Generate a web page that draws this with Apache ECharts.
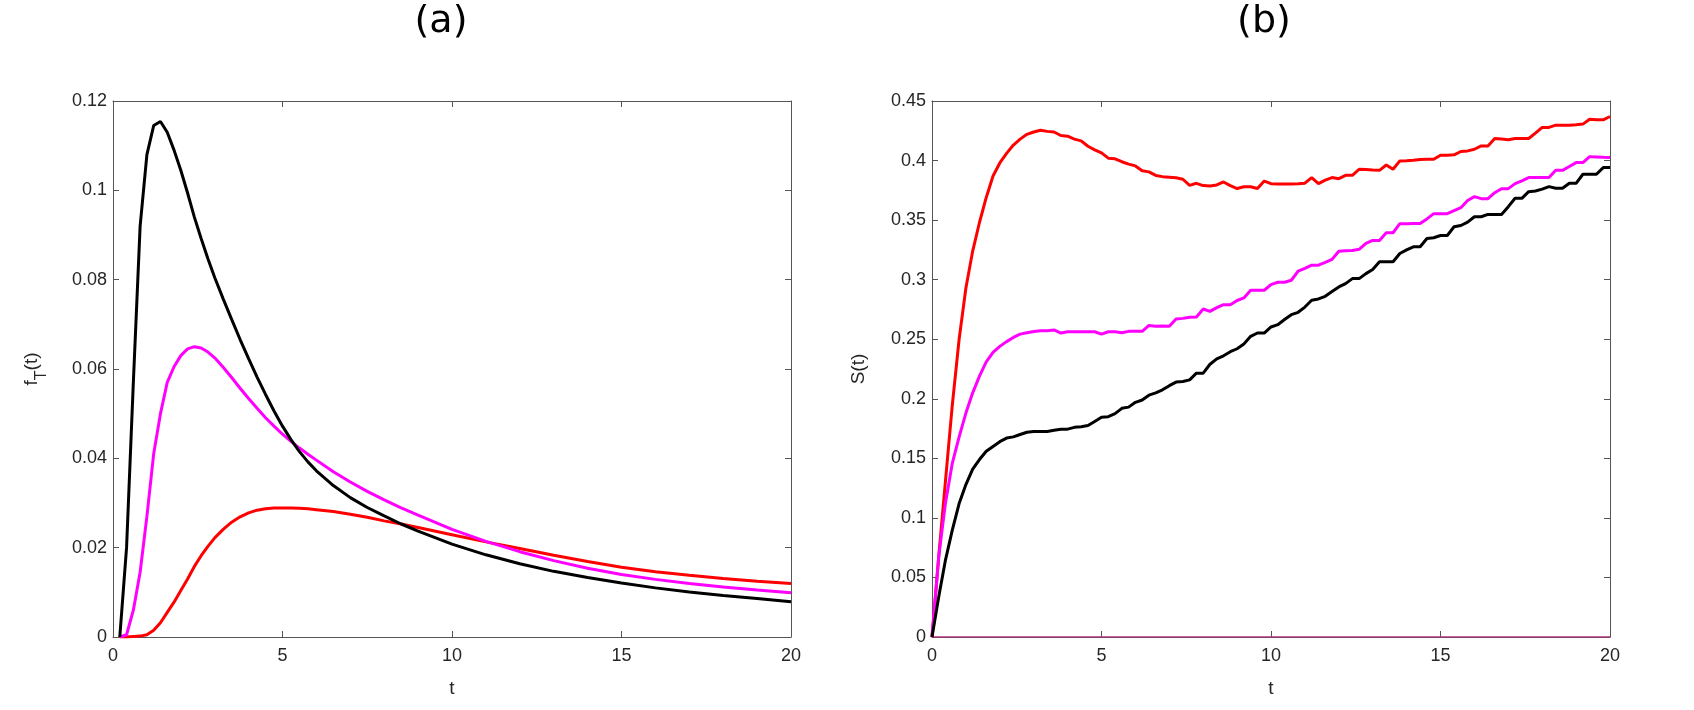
<!DOCTYPE html>
<html>
<head>
<meta charset="utf-8">
<script src="https://cdn.jsdelivr.net/npm/echarts@6/dist/echarts.min.js"></script>
<style>
  html, body { margin: 0; padding: 0; background: #fff; }
  #plot { width: 1694px; height: 710px; }
</style>
</head>
<body>
<div id="plot"></div>
<script>
// panel (a): first passage density f_T(t)
const tF = [0.2, 0.4, 0.6, 0.8, 1.0, 1.2, 1.4, 1.6, 1.8, 2.0, 2.2, 2.4, 2.6, 2.8, 3.0,
  3.25, 3.5, 3.75, 4.0, 4.25, 4.5, 4.75, 5.0, 5.25, 5.5, 5.75, 6.0,
  6.5, 7.0, 7.5, 8.0, 8.5, 9, 10, 11, 12, 13, 14, 15, 16, 17, 18, 19, 20];
const fBlack = [0, 0.020, 0.057, 0.092, 0.108, 0.1145, 0.1154, 0.113, 0.109, 0.1045, 0.0994, 0.094, 0.0892, 0.0847, 0.0805,
  0.0757, 0.0711, 0.0666, 0.0623, 0.0582, 0.0543, 0.0506, 0.0472, 0.0442, 0.0415, 0.0392, 0.0372,
  0.0339, 0.0312, 0.029, 0.0271, 0.0253, 0.0237, 0.0208, 0.0184, 0.0164, 0.0147, 0.0133, 0.0121, 0.011, 0.0101, 0.0093, 0.0086, 0.0079];
const fMagenta = [0, 0.0005, 0.006, 0.0145, 0.027, 0.041, 0.050, 0.057, 0.0605, 0.063, 0.0645, 0.065, 0.0647, 0.0638, 0.0625,
  0.0604, 0.0581, 0.0557, 0.0534, 0.0512, 0.0491, 0.0472, 0.0454, 0.0438, 0.0423, 0.0409, 0.0396,
  0.037, 0.0347, 0.0326, 0.0307, 0.0289, 0.0273, 0.0241, 0.0214, 0.0191, 0.0171, 0.0154, 0.014, 0.0129, 0.012, 0.0112, 0.0105, 0.0099];
const fRed = [0, 0, 0.0001, 0.0002, 0.0005, 0.0015, 0.0032, 0.0055, 0.0078, 0.0104, 0.013, 0.0158, 0.0182, 0.0203, 0.0222,
  0.0241, 0.0257, 0.0269, 0.0278, 0.0284, 0.0287, 0.0289, 0.0289, 0.0289, 0.0288, 0.0287, 0.0285,
  0.0281, 0.0275, 0.0268, 0.026, 0.0253, 0.0245, 0.0229, 0.0213, 0.0198, 0.0183, 0.0169, 0.0156, 0.0146, 0.0138, 0.0131, 0.0125, 0.012];

// panel (b): S(t)
const tS = [0, 0.2, 0.4, 0.6, 0.8, 1.0, 1.2, 1.4, 1.6, 1.8, 2.0, 2.2, 2.4, 2.6, 2.8, 3.0, 3.2, 3.4, 3.6, 3.8,
  4.0, 4.2, 4.4, 4.6, 4.8, 5.0, 5.2, 5.4, 5.6, 5.8, 6.0, 6.2, 6.4, 6.6, 6.8, 7.0, 7.2, 7.4, 7.6, 7.8,
  8.0, 8.2, 8.4, 8.6, 8.8, 9.0, 9.2, 9.4, 9.6, 9.8, 10.0, 10.2, 10.4, 10.6, 10.8, 11.0, 11.2, 11.4, 11.6, 11.8,
  12.0, 12.2, 12.4, 12.6, 12.8, 13.0, 13.2, 13.4, 13.6, 13.8, 14.0, 14.2, 14.4, 14.6, 14.8, 15.0, 15.2, 15.4, 15.6, 15.8,
  16.0, 16.2, 16.4, 16.6, 16.8, 17.0, 17.2, 17.4, 17.6, 17.8, 18.0, 18.2, 18.4, 18.6, 18.8, 19.0, 19.2, 19.4, 19.6, 19.8, 20.0];
const sRed = [0, 0.068, 0.132, 0.195, 0.250, 0.293, 0.324, 0.348, 0.369, 0.387, 0.398, 0.406, 0.413, 0.418, 0.422, 0.424, 0.4255, 0.4245, 0.424, 0.421,
  0.4205, 0.418, 0.4165, 0.412, 0.409, 0.4065, 0.402, 0.4015, 0.399, 0.397, 0.3955, 0.3915, 0.3905, 0.3875, 0.3865, 0.386, 0.3855, 0.3843, 0.3792, 0.3809,
  0.379, 0.3787, 0.3795, 0.382, 0.379, 0.3765, 0.378, 0.378, 0.3765, 0.3828, 0.3806, 0.3803, 0.3803, 0.3803, 0.3806, 0.381, 0.3857, 0.3806, 0.3835, 0.3857,
  0.3848, 0.3876, 0.3876, 0.3927, 0.3925, 0.392, 0.3918, 0.3963, 0.3927, 0.3997, 0.3999, 0.4003, 0.4008, 0.4011, 0.4011, 0.4045, 0.4045, 0.4048, 0.4076, 0.4081,
  0.4095, 0.4123, 0.4123, 0.4185, 0.418, 0.4174, 0.4185, 0.4185, 0.4185, 0.423, 0.4278, 0.4278, 0.4297, 0.4297, 0.4297, 0.43, 0.4306, 0.4347, 0.4342, 0.4342, 0.437];
const sMagenta = [0, 0.068, 0.113, 0.146, 0.168, 0.188, 0.205, 0.219, 0.231, 0.239, 0.244, 0.248, 0.2515, 0.2543, 0.2555, 0.2565, 0.2571, 0.2572, 0.2578, 0.2552,
  0.2563, 0.2563, 0.2563, 0.2563, 0.2563, 0.2543, 0.2563, 0.2563, 0.2555, 0.2566, 0.2566, 0.2566, 0.2616, 0.2608, 0.2612, 0.2608, 0.267, 0.2675, 0.2685, 0.2687,
  0.2754, 0.2734, 0.2765, 0.279, 0.279, 0.2825, 0.2847, 0.2911, 0.2911, 0.2911, 0.2959, 0.2978, 0.2978, 0.2995, 0.3071, 0.3095, 0.3122, 0.3122, 0.3145, 0.317,
  0.3239, 0.3242, 0.3245, 0.3255, 0.3304, 0.3329, 0.3329, 0.3394, 0.3394, 0.347, 0.347, 0.3471, 0.3472, 0.351, 0.3554, 0.3554, 0.3554, 0.358, 0.3604, 0.3665,
  0.3697, 0.368, 0.368, 0.373, 0.3764, 0.3764, 0.3806, 0.383, 0.3857, 0.3857, 0.3857, 0.3857, 0.3918, 0.3918, 0.395, 0.3983, 0.3983, 0.4033, 0.403, 0.4027, 0.4025];
const sBlack = [0, 0.034, 0.065, 0.090, 0.112, 0.128, 0.141, 0.149, 0.156, 0.160, 0.164, 0.167, 0.168, 0.170, 0.1719, 0.1725, 0.1725, 0.1725, 0.1735, 0.1745,
  0.1745, 0.176, 0.1765, 0.1775, 0.181, 0.1845, 0.185, 0.1875, 0.192, 0.193, 0.197, 0.199, 0.203, 0.205, 0.2075, 0.211, 0.214, 0.2145, 0.2159, 0.2215,
  0.2215, 0.229, 0.2335, 0.2361, 0.2395, 0.242, 0.246, 0.2524, 0.2552, 0.2552, 0.2603, 0.2622, 0.2665, 0.2706, 0.2726, 0.277, 0.2827, 0.2838, 0.286, 0.29,
  0.2939, 0.2967, 0.3009, 0.3009, 0.3051, 0.3085, 0.315, 0.315, 0.315, 0.322, 0.325, 0.3276, 0.3276, 0.3346, 0.3352, 0.3371, 0.3371, 0.3444, 0.3455, 0.3483,
  0.3528, 0.3528, 0.3548, 0.3548, 0.3548, 0.3613, 0.3683, 0.3683, 0.3739, 0.3745, 0.376, 0.3781, 0.3767, 0.3767, 0.3809, 0.3809, 0.3885, 0.3885, 0.3885, 0.3941, 0.3941];
const tZero = [0, 20];
const sZero = [0, 0];

const xTicks = { min: 0, max: 20, interval: 5 };

const pairs = (xs, ys) => xs.map((x, i) => [x, ys[i]]);

const axisColor = '#555';
const labelFont = { fontFamily: 'Liberation Sans', fontSize: 18, color: '#262626' };
const nameFont = { fontFamily: 'Liberation Sans', fontSize: 19, color: '#262626' };

function boxAxis(kind, grid, pos, range, main, name) {
  const a = {
    type: 'value', gridIndex: grid, position: pos,
    min: range.min, max: range.max, interval: range.interval,
    axisLine: { show: true, onZero: false, lineStyle: { color: axisColor, width: 1 } },
    axisTick: { show: true, inside: true, length: 6, lineStyle: { color: axisColor } },
    splitLine: { show: false },
    axisLabel: main ? Object.assign({ margin: kind === 'x' ? 10 : 6 }, labelFont) : { show: false }
  };
  if (main && name) Object.assign(a, name);
  return a;
}

const chart = echarts.init(document.getElementById('plot'));
const line = (color, x, y, xi, yi, w) => ({
  type: 'line', data: pairs(x, y), xAxisIndex: xi, yAxisIndex: yi,
  showSymbol: false, symbol: 'none', animation: false,
  lineStyle: { color: color, width: w || 3 }, itemStyle: { color: color }
});

chart.setOption({
  backgroundColor: '#fff',
  animation: false,
  title: [
    { text: '(a)', left: 436, top: -2, textAlign: 'center',
      textStyle: { fontFamily: 'DejaVu Sans', fontSize: 38, fontWeight: 'normal', color: '#000' } },
    { text: '(b)', left: 1259, top: -2, textAlign: 'center',
      textStyle: { fontFamily: 'DejaVu Sans', fontSize: 38, fontWeight: 'normal', color: '#000' } }
  ],
  grid: [
    { left: 113, top: 101, width: 678, height: 536 },
    { left: 932, top: 101, width: 678, height: 536 }
  ],
  xAxis: [
    boxAxis('x', 0, 'bottom', xTicks, true, { name: 't', nameLocation: 'middle', nameGap: 42, nameTextStyle: nameFont }),
    boxAxis('x', 0, 'top', xTicks, false),
    boxAxis('x', 1, 'bottom', xTicks, true, { name: 't', nameLocation: 'middle', nameGap: 42, nameTextStyle: nameFont }),
    boxAxis('x', 1, 'top', xTicks, false)
  ],
  yAxis: [
    boxAxis('y', 0, 'left', { min: 0, max: 0.12, interval: 0.02 }, true, {
      name: '{a|f}{s|T}{a|(t)}', nameLocation: 'middle', nameGap: 63,
      nameTextStyle: { rich: {
        a: { fontFamily: 'Liberation Sans', fontSize: 19, color: '#262626', lineHeight: 28, verticalAlign: 'top' },
        s: { fontFamily: 'Liberation Sans', fontSize: 16, color: '#262626', lineHeight: 28, verticalAlign: 'bottom' }
      } } }),
    boxAxis('y', 0, 'right', { min: 0, max: 0.12, interval: 0.02 }, false),
    boxAxis('y', 1, 'left', { min: 0, max: 0.45, interval: 0.05 }, true, {
      name: 'S(t)', nameLocation: 'middle', nameGap: 64, nameTextStyle: nameFont }),
    boxAxis('y', 1, 'right', { min: 0, max: 0.45, interval: 0.05 }, false)
  ],
  series: [
    line('#ff0000', tF, fRed, 0, 0),
    line('#ff00ff', tF, fMagenta, 0, 0),
    line('#000000', tF, fBlack, 0, 0),
    line('#b4307c', tZero, sZero, 2, 2, 1.5),
    line('#ff0000', tS, sRed, 2, 2),
    line('#ff00ff', tS, sMagenta, 2, 2),
    line('#000000', tS, sBlack, 2, 2)
  ]
});
</script>
</body>
</html>
